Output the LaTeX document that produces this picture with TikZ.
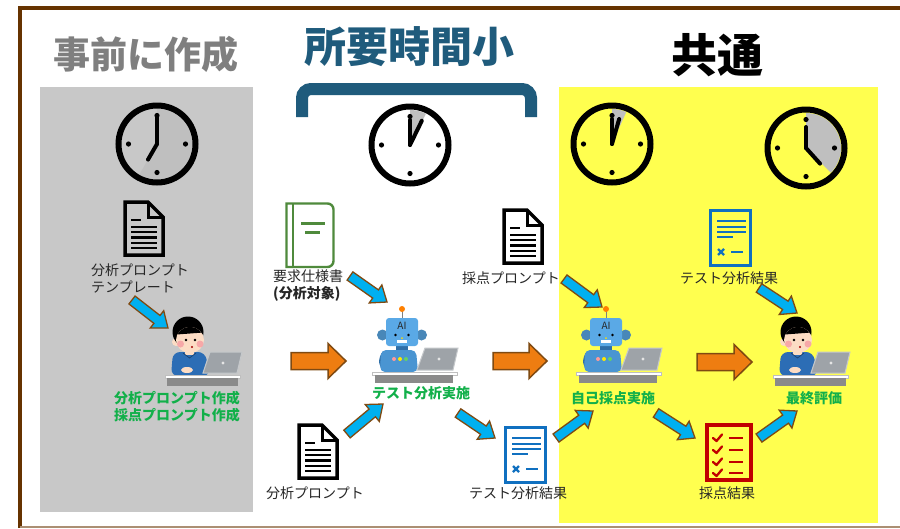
\documentclass[tikz,border=0pt]{standalone}
\usepackage{fontspec}
\setmainfont{Noto Sans CJK JP}
\usetikzlibrary{calc}

\definecolor{framebrown}{HTML}{663300}
\definecolor{boxgray}{HTML}{C8C8C8}
\definecolor{hiyellow}{HTML}{FFFF4F}
\definecolor{titlegray}{HTML}{7F7F7F}
\definecolor{titleblue}{HTML}{1F5B7C}
\definecolor{labelgreen}{HTML}{12B04A}
\definecolor{labeltext}{HTML}{262626}
\definecolor{arrowblue}{HTML}{00B0F0}
\definecolor{arrowedge}{HTML}{7F4A12}
\definecolor{arroworange}{HTML}{EE7D11}
\definecolor{sectorgray}{HTML}{BFBFBF}
\definecolor{docblue}{HTML}{1070C0}
\definecolor{checkred}{HTML}{C00000}
\definecolor{bookgreen}{HTML}{4F8A3C}
\definecolor{shirtblue}{HTML}{2C6DB5}
\definecolor{skin}{HTML}{FCDCC4}
\definecolor{cheek}{HTML}{F7A8A8}
\definecolor{laptopgray}{HTML}{9EA3A8}
\definecolor{deskgray}{HTML}{8A8A8A}
\definecolor{robotblue}{HTML}{5AA9E6}
\definecolor{robotbody}{HTML}{4A95D2}
\definecolor{robotdark}{HTML}{2F6FA8}

% block arrow: style, tail, tip, shaft half width, head half width, head length
\newcommand\blockarrow[6]{%
  \coordinate (ba) at ($(#3)!#6!(#2)$);
  \filldraw[#1] ($(#2)!#4!90:(#3)$) -- ($(ba)!#4!90:(#3)$) -- ($(ba)!#5!90:(#3)$)
    -- (#3) -- ($(ba)!#5!-90:(#3)$) -- ($(ba)!#4!-90:(#3)$) -- ($(#2)!#4!-90:(#3)$) -- cycle;}

\tikzset{
  lbl/.style={font=\fontsize{14}{17}\selectfont, text=labeltext, inner sep=0pt, align=center},
  glbl/.style={font=\bfseries\fontsize{14}{17}\selectfont, text=labelgreen, inner sep=0pt},
  bluearrow/.style={fill=arrowblue, draw=arrowedge, line width=1.3pt, line join=miter},
  orangearrow/.style={fill=arroworange, draw=arrowedge, line width=1.5pt, line join=miter},
  % clock: sector end angle, hour hand angle, hour hand length, sector colour, minute hand length
  pics/clock/.style n args={5}{code={
    \fill[#4] (0,0) -- (-90:35) arc[start angle=-90, end angle=#1, radius=35] -- cycle;
    \draw[line width=6pt] (0,0) circle[radius=38.5];
    \foreach \a in {0,90,180,270} \fill (\a:28.5) circle[radius=2.6];
    \draw[line width=4pt, line cap=round] (0,0) -- (-90:#5);
    \draw[line width=4pt, line cap=round] (0,0) -- (#2:#3);
  }},
  % plain text document with a folded corner
  pics/blackdoc/.style={code={
    \draw[line width=3.5pt, line join=miter] (2,2) -- (25,2) -- (40,17) -- (40,55) -- (2,55) -- cycle;
    \draw[line width=3pt, line join=miter] (25,2) -- (25,17) -- (40,17);
    \draw[line width=2.6pt] (8,20) -- (18,20);
    \foreach \y in {27,32,37.5,43,48} \draw[line width=2.6pt] (8,\y) -- (34,\y);
  }},
  % result sheet
  pics/bluedoc/.style={code={
    \draw[docblue, line width=3.2pt] (1.6,1.6) rectangle (41.4,56.4);
    \foreach \y in {12,18,23} \draw[docblue, line width=2.6pt] (8,\y) -- (37,\y);
    \draw[docblue, line width=2.6pt] (8,28) -- (24,28);
    \draw[docblue, line width=2.2pt] (9,40) -- (15,46) (9,46) -- (15,40);
    \draw[docblue, line width=2.6pt] (22,43) -- (34,43);
  }},
  % check sheet
  pics/checklist/.style={code={
    \draw[checkred, line width=4pt] (2,2) rectangle (46,57);
    \foreach \y in {15,27,39,50} {
      \draw[checkred, line width=2.3pt, line cap=round, line join=round] (8,\y) -- (11.5,\y+3) -- (17,\y-3.5);
      \draw[checkred, line width=2.6pt] (24,\y) -- (38,\y);
    }
  }},
  % specification book
  pics/book/.style={code={
    \draw[bookgreen, line width=2.4pt] (1.5,65) -- (1.5,1.5) [rounded corners=6] -- (48.5,1.5) -- (48.5,65) [sharp corners] -- cycle;
    \draw[bookgreen, line width=2pt] (8,1.5) -- (8,65);
    \draw[bookgreen, line width=3pt] (16,21) -- (40,21);
    \draw[bookgreen, line width=3pt] (20,30) -- (35,30);
  }},
  % person working at a laptop (origin: desk top-left)
  pics/worker/.style={code={
    \fill[shirtblue, rounded corners=7] (6,1) -- (8,-23) -- (40,-23) -- (45,1) -- cycle;
    \fill[skin] (20,-27) rectangle (29,-20);
    \draw[shirtblue!60!black, line width=.7pt] (18,-22) -- (24.5,-17) -- (31,-22);
    \fill[skin] (11,-33) circle[radius=4];
    \fill[black] (23,-43) circle[radius=15.5];
    \fill[skin] (25,-35) ellipse[x radius=14, y radius=13];
    \begin{scope}
      \clip (25,-35) ellipse[x radius=14, y radius=13];
      \fill[black] (5,-60) -- (45,-60) -- (45,-43) -- (5,-40) -- cycle;
    \end{scope}
    \fill[cheek] (15.5,-31) circle[radius=3.5];
    \fill[cheek] (35,-31) circle[radius=3.5];
    \fill (21,-35) circle[radius=1.3];
    \fill (30,-35) circle[radius=1.3];
    \fill[red!65!black] (27,-28) circle[radius=1.2];
    \fill[skin] (22,-5) ellipse[x radius=6, y radius=3];
    \filldraw[fill=laptopgray, draw=laptopgray!60!white, line width=1pt] (45,-23) -- (77,-23) -- (72,-2) -- (38,-2) -- cycle;
    \fill[white!80!gray] (58,-12) circle[radius=1.6];
    \filldraw[fill=white, draw=gray!50, line width=.5pt] (0,0) rectangle (75,3);
    \fill[deskgray] (2,3) rectangle (73,11);
  }},
  % AI robot working at a laptop (origin: desk top-left)
  pics/robot/.style={code={
    \draw[robotdark, line width=3.5pt, line cap=round] (11,-18) .. controls (6,-8) and (10,-3) .. (20,-3);
    \fill[robotbody, rounded corners=5] (8,0) -- (9,-22) -- (44,-22) -- (46,0) -- cycle;
    \fill[pink!80!red] (22,-13) circle[radius=2];
    \fill[yellow!90!orange] (28,-13) circle[radius=2];
    \fill[green!70!black!60] (34,-13) circle[radius=2];
    \fill[robotdark] (24,-27) rectangle (36,-22);
    \fill[robotblue!80!black] (10.5,-37) circle[radius=5.5];
    \fill[robotblue!80!black] (49.5,-37) circle[radius=5.5];
    \draw[gray, line width=1pt] (30,-54) -- (30,-61);
    \fill[orange] (30,-63) circle[radius=3];
    \fill[robotblue, rounded corners=3] (14,-54) rectangle (46,-26);
    \node[font=\fontsize{10}{10}\selectfont, text=black!85, inner sep=0pt] at (30,-46) {AI};
    \fill (23.5,-37) circle[radius=1.4];
    \fill (36.5,-37) circle[radius=1.4];
    \fill[yellow!80!orange] (30,-34) circle[radius=1];
    \fill[white] (25,-32) rectangle (35,-29);
    \filldraw[fill=laptopgray, draw=laptopgray!60!white, line width=1pt] (53,-24) -- (86,-24) -- (81,-2) -- (45,-2) -- cycle;
    \fill[white!80!gray] (67,-13) circle[radius=1.6];
    \filldraw[fill=white, draw=gray!50, line width=.5pt] (0,0) rectangle (85,3);
    \fill[deskgray] (3,3) rectangle (81,11);
  }}
}

\begin{document}
\begin{tikzpicture}[x=1pt, y=-1pt]
\useasboundingbox (0,0) rectangle (900,528);
\fill[white] (0,0) rectangle (900,528);

% panels
\fill[boxgray] (40,87) rectangle (253,512);
\fill[hiyellow] (559,87) rectangle (878,523);

% outer frame
\draw[framebrown, line width=4pt, line join=miter] (19.5,528) -- (19.5,8) -- (900,8);
\draw[framebrown!55!white, line width=1.5pt] (19.5,527) -- (900,527);

% headings
\node[font=\bfseries\fontsize{37}{37}\selectfont, text=titlegray, inner sep=0pt] (h-pre) at (146,54) {事前に作成};
\node[font=\bfseries\fontsize{42}{42}\selectfont, text=titleblue, inner sep=0pt] (h-time) at (409,47) {所要時間小};
\node[font=\bfseries\fontsize{46}{46}\selectfont, text=black, inner sep=0pt] (h-common) at (717,55) {共通};
\draw[titleblue, line width=12pt, rounded corners=9pt] (302,117) -- (302,89) -- (531,89) -- (531,117);

% clocks
\pic (clk1) at (157,144) {clock={120}{120}{18}{sectorgray}{27}};
\pic (clk2) at (410,145) {clock={-63}{-64}{27}{sectorgray}{25}};
\pic (clk3) at (612,144) {clock={-66}{-74}{26}{sectorgray}{25}};
\pic (clk4) at (806,148) {clock={45}{48}{21}{sectorgray}{21}};

% documents
\pic (tmpl) at (123,200) {blackdoc};
\pic (aprompt) at (297,423) {blackdoc};
\pic (sprompt) at (502,208) {blackdoc};
\pic (spec) at (285,202) {book};
\pic (result1) at (504,426) {bluedoc};
\pic (result2) at (709,209) {bluedoc};
\pic (score) at (705,423) {checklist};

% actors
\pic (author) at (165,375) {worker};
\pic (judge) at (773,375) {worker};
\pic (ai1) at (372,372) {robot};
\pic (ai2) at (576,372) {robot};

% labels
\node[lbl, align=left, anchor=west] (tmpl-l) at (91,278.5) {分析プロンプト\\テンプレート};
\node[lbl, align=left, anchor=west] (spec-l) at (273,286) {要求仕様書\\{\bfseries (分析対象)}};
\node[lbl] (sprompt-l) at (511,278) {採点プロンプト};
\node[lbl] (aprompt-l) at (315,493) {分析プロンプト};
\node[lbl] (result1-l) at (518,493) {テスト分析結果};
\node[lbl] (result2-l) at (729,278) {テスト分析結果};
\node[lbl] (score-l) at (727,493) {採点結果};
\node[glbl, align=right, anchor=east] (author-l) at (240,406.5) {分析プロンプト作成\\採点プロンプト作成};
\node[glbl] (ai1-l) at (421,393) {テスト分析実施};
\node[glbl] (ai2-l) at (613,398) {自己採点実施};
\node[glbl] (judge-l) at (814,398) {最終評価};

% flow arrows
\coordinate (a1s) at (132,300); \coordinate (a1e) at (168,328);
\coordinate (a2s) at (350,276); \coordinate (a2e) at (387,302);
\coordinate (a3s) at (347,434); \coordinate (a3e) at (383,404);
\coordinate (a4s) at (458,413); \coordinate (a4e) at (495,438);
\coordinate (a5s) at (564,279); \coordinate (a5e) at (602,307);
\coordinate (a6s) at (556,438); \coordinate (a6e) at (593,411);
\coordinate (a7s) at (656,413); \coordinate (a7e) at (695,438);
\coordinate (a8s) at (759,438); \coordinate (a8e) at (797,411);
\coordinate (a9s) at (759,288); \coordinate (a9e) at (797,313);
\foreach \i in {1,...,9}
  \blockarrow{bluearrow}{a\i s}{a\i e}{5pt}{11pt}{14pt};

\coordinate (o1s) at (291,361); \coordinate (o1e) at (346,361);
\coordinate (o2s) at (493,361); \coordinate (o2e) at (547,361);
\coordinate (o3s) at (697,362); \coordinate (o3e) at (752,362);
\foreach \i in {1,2,3}
  \blockarrow{orangearrow}{o\i s}{o\i e}{8.5pt}{17.5pt}{18pt};
\end{tikzpicture}
\end{document}
